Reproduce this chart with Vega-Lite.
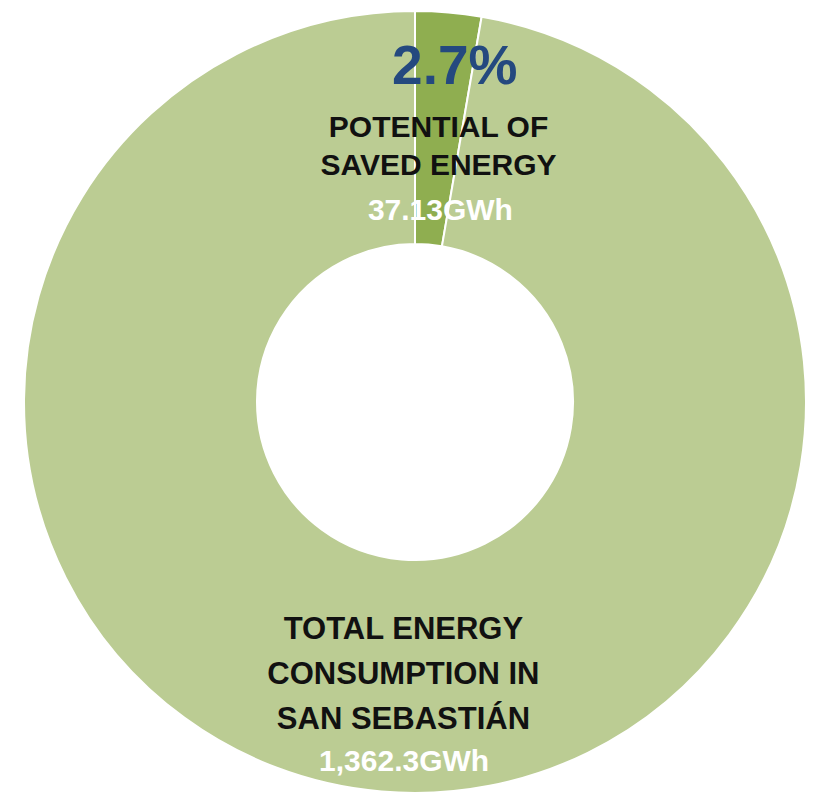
{
  "$schema": "https://vega.github.io/schema/vega-lite/v6.json",
  "autosize": {"type": "none"},
  "width": 806,
  "height": 794,
  "padding": {"left": 12, "top": 5, "right": 0, "bottom": 0},
  "background": "white",
  "view": {"stroke": null},
  "data": {
    "values": [
      {"category": "Potential of saved energy", "order": 1, "value": 37.13, "pct": "2.7%", "name": ["POTENTIAL OF", "SAVED ENERGY"], "amount": "37.13GWh"},
      {"category": "Total energy consumption", "order": 2, "value": 1325.17, "pct": "97.3%", "name": ["TOTAL ENERGY", "CONSUMPTION IN", "SAN SEBASTIÁN"], "amount": "1,362.3GWh"}
    ]
  },
  "encoding": {
    "theta": {"field": "value", "type": "quantitative", "stack": true},
    "order": {"field": "order", "type": "quantitative"}
  },
  "layer": [
    {
      "mark": {"type": "arc", "outerRadius": 391, "innerRadius": 158, "stroke": "#ffffff", "strokeWidth": 2},
      "encoding": {
        "color": {
          "field": "category", "type": "nominal", "legend": null,
          "scale": {"domain": ["Potential of saved energy", "Total energy consumption"], "range": ["#8FAE50", "#BBCC93"]}
        }
      }
    },
    {
      "mark": {"type": "text", "radius": 336, "dx": 11, "font": "Liberation Sans", "fontWeight": "bold", "fontSize": 55, "color": "#24497F", "baseline": "middle", "align": "center"},
      "encoding": {"text": {"condition": {"test": "datum.order === 1", "field": "pct"}, "value": ""}}
    },
    {
      "mark": {"type": "text", "radius": 275, "dx": 0, "font": "Liberation Sans", "fontWeight": "bold", "fontSize": 30, "lineHeight": 38, "color": "#111111", "baseline": "middle", "align": "center"},
      "encoding": {"text": {"condition": {"test": "datum.order === 1", "field": "name"}, "value": ""}}
    },
    {
      "mark": {"type": "text", "radius": 192, "dx": 9, "font": "Liberation Sans", "fontWeight": "bold", "fontSize": 30, "color": "#ffffff", "baseline": "middle", "align": "center"},
      "encoding": {"text": {"condition": {"test": "datum.order === 2 - 1", "field": "amount"}, "value": ""}}
    },
    {
      "mark": {"type": "text", "radius": 229, "dx": 8, "font": "Liberation Sans", "fontWeight": "bold", "fontSize": 31, "lineHeight": 45, "color": "#111111", "baseline": "middle", "align": "center"},
      "encoding": {"text": {"condition": {"test": "datum.order === 2", "field": "name"}, "value": ""}}
    },
    {
      "mark": {"type": "text", "radius": 361, "dx": 20, "font": "Liberation Sans", "fontWeight": "bold", "fontSize": 30, "color": "#ffffff", "baseline": "middle", "align": "center"},
      "encoding": {"text": {"condition": {"test": "datum.order === 2", "field": "amount"}, "value": ""}}
    }
  ]
}
